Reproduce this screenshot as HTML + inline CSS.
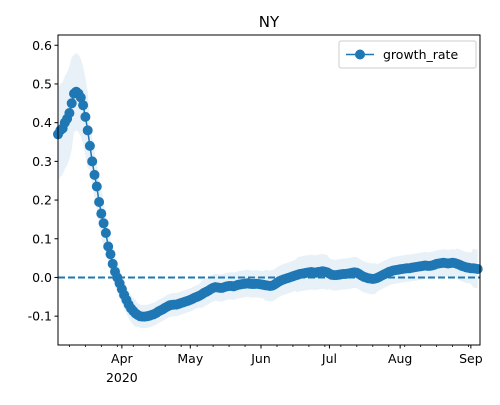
<!DOCTYPE html>
<html><head><meta charset="utf-8"><style>
body{margin:0;background:#fff}
svg{font-family:"DejaVu Sans","Liberation Sans",sans-serif}
</style></head><body>
<svg id="chart" width="500" height="400" viewBox="0 0 500 400" xmlns="http://www.w3.org/2000/svg">
<text x="269" y="27" font-size="15" text-anchor="middle">NY</text>
<g id="plot"></g>
<rect x="58" y="35" width="422" height="310" fill="none" stroke="#000" stroke-width="1"/>
<g id="axes"></g>
<g>
<rect x="339" y="41" width="137" height="27" rx="2" fill="#fff" fill-opacity="0.8" stroke="#ccc"/>
<line x1="346" y1="54.5" x2="374" y2="54.5" stroke="#1f77b4" stroke-width="1.5"/>
<circle cx="360" cy="54.5" r="5" fill="#1f77b4"/>
<text x="383" y="59" font-size="12.5">growth_rate</text>
</g>
</svg>
<script>
const startDate = [2020, 2, 4];
const values = [0.37,0.38,0.385,0.40,0.41,0.425,0.45,0.475,0.48,0.475,0.465,0.445,0.415,0.38,0.34,0.30,0.265,0.235,0.195,0.165,0.14,0.115,0.08,0.06,0.035,0.015,0.0,-0.015,
-0.03,-0.045,-0.058,-0.07,-0.08,-0.087,-0.093,-0.097,-0.1,-0.101,-0.101,-0.1,-0.099,-0.097,-0.095,-0.092,-0.088,-0.085,-0.082,-0.078,-0.075,-0.072,-0.071,-0.07,-0.07,-0.068,-0.066,-0.064,-0.062,-0.06,
-0.058,-0.055,-0.052,-0.05,-0.047,-0.044,-0.04,-0.037,-0.034,-0.03,-0.027,-0.025,-0.026,-0.027,-0.027,-0.025,-0.023,-0.022,-0.022,-0.023,-0.021,-0.019,-0.018,-0.017,-0.016,-0.015,-0.016,-0.017,-0.017,-0.016,-0.017,
-0.018,-0.019,-0.02,-0.021,-0.022,-0.021,-0.018,-0.014,-0.01,-0.007,-0.005,-0.003,-0.001,0.001,0.003,0.005,0.007,0.009,0.01,0.011,0.012,0.013,0.014,0.013,0.012,0.014,0.015,0.016,0.015,0.013,
0.01,0.007,0.006,0.006,0.007,0.008,0.009,0.009,0.01,0.011,0.012,0.013,0.012,0.009,0.005,0.002,0.0,-0.002,-0.003,-0.004,-0.003,-0.001,0.002,0.005,0.008,0.011,0.014,0.016,0.018,0.019,0.02,
0.021,0.022,0.023,0.024,0.024,0.025,0.026,0.027,0.028,0.029,0.03,0.031,0.03,0.03,0.031,0.033,0.035,0.036,0.037,0.038,0.037,0.036,0.037,0.038,0.037,0.035,0.033,0.03,0.028,0.026,0.025,
0.024,0.024,0.023,0.022];
const weeklyHalfWidth = [0.12,0.1,0.06,0.04,0.035,0.03,0.03,0.03,0.03,0.035,0.035,0.035,0.035,0.04,0.04,0.045,0.045,0.04,0.04,0.04,0.035,0.035,0.035,0.035,0.035,0.04,0.05];
const yTicks = [-0.1,0.0,0.1,0.2,0.3,0.4,0.5,0.6];
const monthLabels = ["Apr","May","Jun","Jul","Aug","Sep"];
const monthIdx = [3,4,5,6,7,8];

const NS="http://www.w3.org/2000/svg";
const X0=58,X1=480,Y0=345,Y1=35;
const d0=Date.UTC(startDate[0],startDate[1],startDate[2]);
const DAY=86400000;
const pxPerDay=2.281;
function xOfDay(d){return X0+d*pxPerDay;}
function xOfDate(t){return xOfDay((t-d0)/DAY);}
const yMin=-0.1745,yMax=0.6265;
function y(v){return Y0-(v-yMin)/(yMax-yMin)*(Y0-Y1);}
function mk(tag,attrs,parent){const e=document.createElementNS(NS,tag);for(const k in attrs)e.setAttribute(k,attrs[k]);parent.appendChild(e);return e;}
const plot=document.getElementById('plot'),axes=document.getElementById('axes');

let up=[],lo=[];
values.forEach((v,i)=>{const h=weeklyHalfWidth[Math.floor(i/7)];up.push(xOfDay(i).toFixed(1)+','+y(v+h).toFixed(1));lo.unshift(xOfDay(i).toFixed(1)+','+y(v-h).toFixed(1));});
const band=mk('polygon',{points:up.concat(lo).join(' '),fill:'#1f77b4','fill-opacity':0.1},plot);


const zl=mk('line',{x1:X0,x2:X1,y1:y(0),y2:y(0),stroke:'#1f77b4','stroke-width':2,'stroke-dasharray':'7,3'},plot);


const ln=mk('polyline',{points:values.map((v,i)=>xOfDay(i).toFixed(1)+','+y(v).toFixed(1)).join(' '),fill:'none',stroke:'#1f77b4','stroke-width':1.5},plot);


values.forEach((v,i)=>{const c=mk('circle',{cx:xOfDay(i).toFixed(1),cy:y(v).toFixed(1),r:5,fill:'#1f77b4'},plot);

});

yTicks.forEach(t=>{const yy=y(t);
const tk=mk('line',{x1:X0-3.5,x2:X0,y1:yy,y2:yy,stroke:'#000'},axes);


const tx=mk('text',{x:X0-6,y:yy+4.5,'font-size':12.5,'text-anchor':'end'},axes);
tx.textContent=t.toFixed(1);

});

for(let d=0;d<values.length+2;d++){const dt=new Date(d0+d*DAY);if(dt.getUTCDay()===1){const xx=xOfDay(d);if(xx>X1)break;
const tk=mk('line',{x1:xx,x2:xx,y1:Y0,y2:Y0+2,stroke:'#000','stroke-width':0.8},axes);

}}
monthIdx.forEach((m,i)=>{const xx=xOfDate(Date.UTC(2020,m,1));
const tk=mk('line',{x1:xx,x2:xx,y1:Y0,y2:Y0+3.5,stroke:'#000'},axes);


const tx=mk('text',{x:xx,y:Y0+18,'font-size':12.5,'text-anchor':'middle'},axes);
tx.textContent=monthLabels[i];


if(i===0){const yr=mk('text',{x:xx,y:Y0+37,'font-size':12.5,'text-anchor':'middle'},axes);yr.textContent='2020';

}});
</script>
</body></html>
